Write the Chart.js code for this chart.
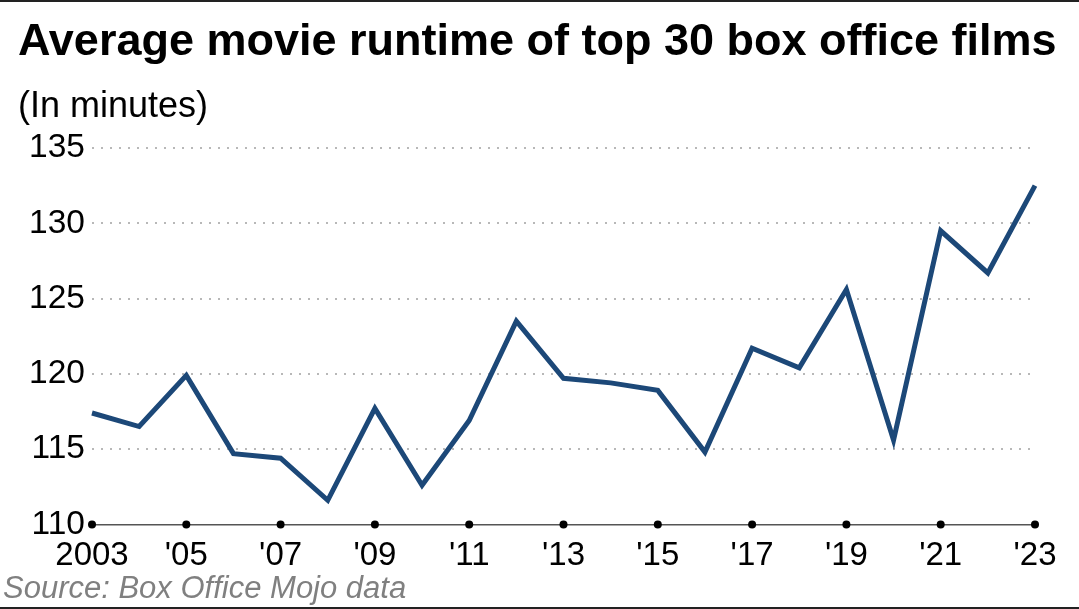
<!DOCTYPE html>
<html>
<head>
<meta charset="utf-8">
<title>Average movie runtime of top 30 box office films</title>
<script src="https://cdn.jsdelivr.net/npm/chart.js@4.4.0/dist/chart.umd.min.js"></script>
<style>
  html, body { margin: 0; padding: 0; background: #fff; }
  #wrap { position: relative; width: 1079px; height: 609px; overflow: hidden; }
  .rule { position: absolute; left: 0; width: 1079px; height: 2px; background: #222; }
</style>
</head>
<body>
<div id="wrap">
  <canvas id="runtimeChart" width="1079" height="609"></canvas>
  <div class="rule" style="top:0"></div>
  <div class="rule" style="top:607px"></div>
</div>
<script>
// data
const years = [2003, 2004, 2005, 2006, 2007, 2008, 2009, 2010, 2011, 2012, 2013,
  2014, 2015, 2016, 2017, 2018, 2019, 2020, 2021, 2022, 2023];
const runtimes = [117.4, 116.5, 119.9, 114.7, 114.4, 111.6, 117.7, 112.6, 116.9, 123.5, 119.7,
  119.4, 118.9, 114.8, 121.7, 120.4, 125.6, 115.6, 129.5, 126.7, 132.5];
const xTickLabels = ["2003", "", "'05", "", "'07", "", "'09", "", "'11", "", "'13",
  "", "'15", "", "'17", "", "'19", "", "'21", "", "'23"];
const yMin = 110;
const yMax = 135;
const yStep = 5;

const titleText = "Average movie runtime of top 30 box office films";
const subtitleText = "(In minutes)";
const sourceText = "Source: Box Office Mojo data";

const fontFamily = "'Liberation Sans', Arial, Helvetica, sans-serif";
Chart.defaults.font.family = fontFamily;
Chart.defaults.color = "#000";

// black dots on the baseline at every labelled year
const axisDots = {
  id: "axisDots",
  afterDraw(chart) {
    const { ctx, scales: { x, y } } = chart;
    ctx.save();
    ctx.fillStyle = "#000";
    years.forEach((yr, i) => {
      if (!xTickLabels[i]) return;
      ctx.beginPath();
      ctx.arc(x.getPixelForValue(i), y.getPixelForValue(yMin), 4, 0, Math.PI * 2);
      ctx.fill();
    });
    ctx.restore();
  }
};

// title, unit line and source note (the built-in title squeezes text to the box width)
const headings = {
  id: "headings",
  afterDraw(chart) {
    const ctx = chart.ctx;
    ctx.save();
    ctx.textAlign = "left";
    ctx.textBaseline = "alphabetic";
    ctx.fillStyle = "#000";
    ctx.font = "bold 45px " + fontFamily;
    ctx.fillText(titleText, 18, 55);
    ctx.font = "36px " + fontFamily;
    ctx.fillText(subtitleText, 18, 117);
    ctx.font = "italic 31px " + fontFamily;
    ctx.fillStyle = "#808080";
    ctx.fillText(sourceText, 3, 598);
    ctx.restore();
  }
};

const ctx = document.getElementById("runtimeChart");

new Chart(ctx, {
  type: "line",
  data: {
    labels: years,
    datasets: [
      {
        label: "Average runtime",
        data: runtimes,
        borderColor: "#1c4878",
        borderWidth: 5,
        pointRadius: 0,
        pointHoverRadius: 0,
        tension: 0,
        fill: false,
      },
    ],
  },
  options: {
    responsive: false,
    animation: false,
    layout: { padding: { left: 18, right: 44, top: 148, bottom: 21 } },
    plugins: {
      legend: { display: false },
      tooltip: { enabled: false },
      title: { display: false },
    },
    scales: {
      x: {
        type: "category",
        offset: false,
        grid: { display: false, drawTicks: false },
        border: { display: true, color: "#555", width: 1.5 },
        ticks: {
          autoSkip: false,
          maxRotation: 0,
          padding: 12,
          color: "#000",
          font: { size: 33 },
          callback: (value, index) => xTickLabels[index],
        },
      },
      y: {
        min: yMin,
        max: yMax,
        afterFit: (scale) => { scale.width = 74; },
        grid: {
          drawTicks: false,
          lineWidth: 2,
          color: (c) => (c.tick && c.tick.value === yMin ? "rgba(0,0,0,0)" : "#b8b8b8"),
        },
        border: { display: false, dash: [2, 7] },
        ticks: {
          stepSize: yStep,
          padding: 7,
          color: "#000",
          font: { size: 33.5 },
        },
      },
    },
  },
  plugins: [axisDots, headings],
});
</script>
</body>
</html>
